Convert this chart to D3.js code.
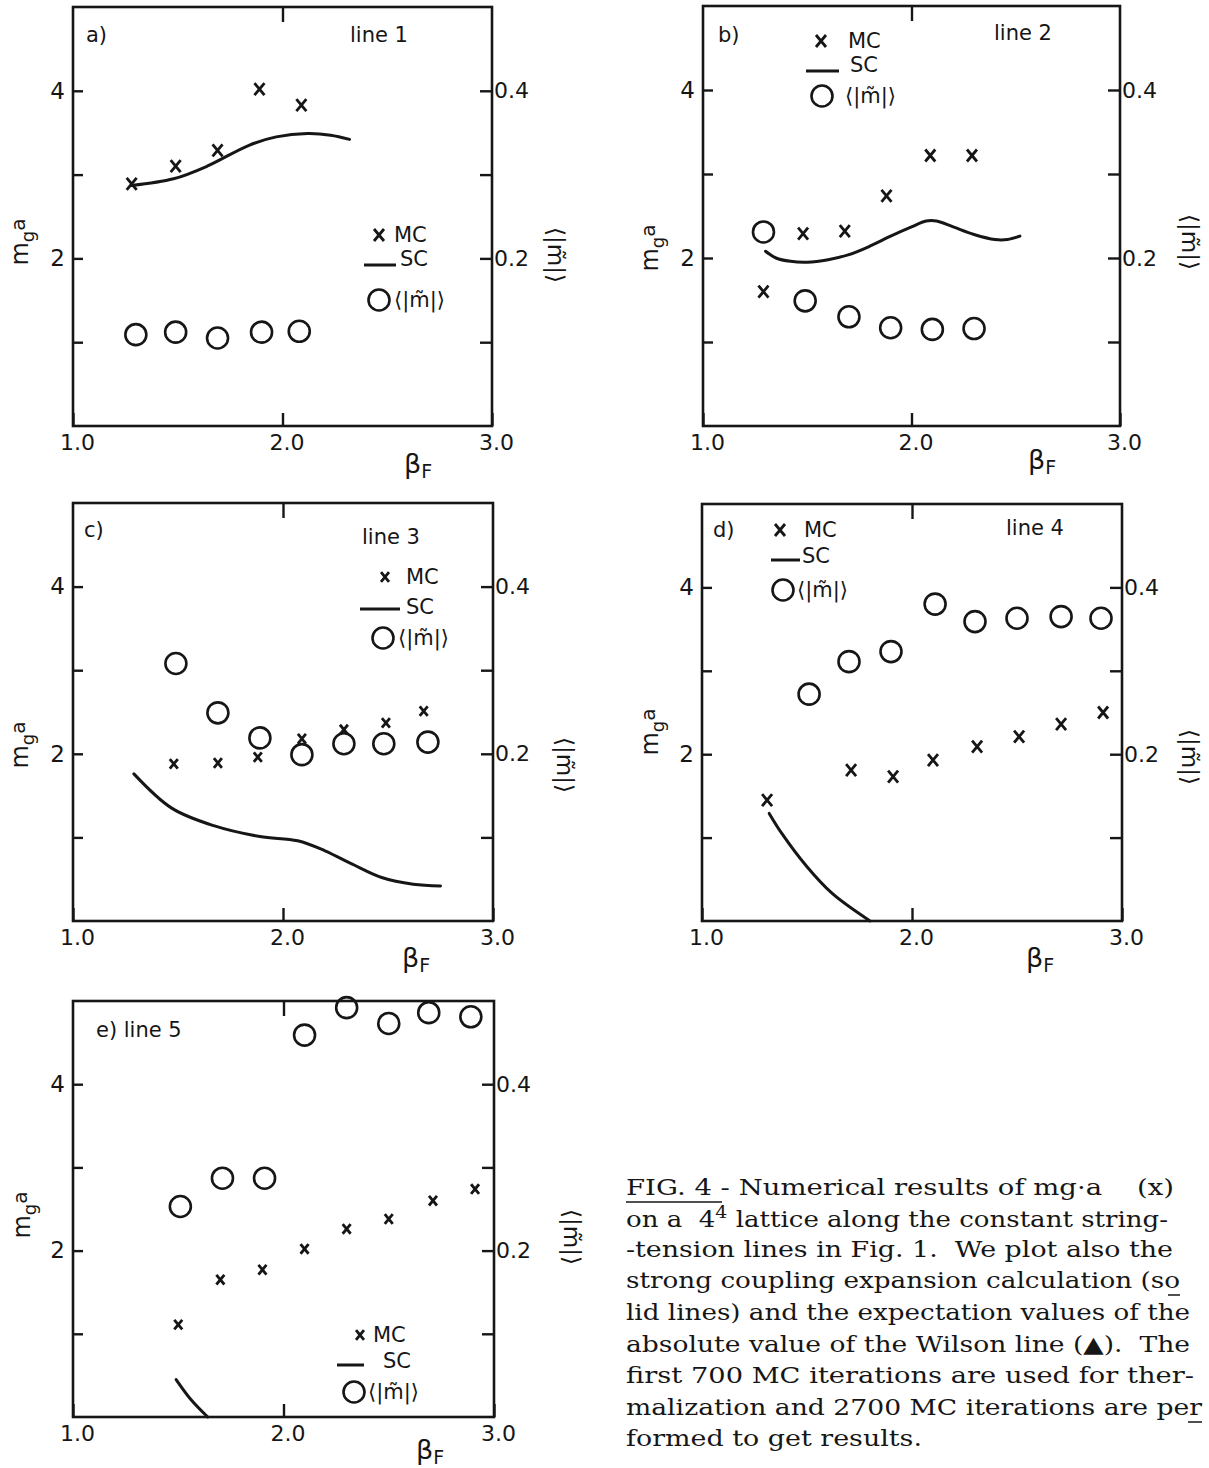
<!DOCTYPE html>
<html>
<head>
<meta charset="utf-8">
<script src="https://cdn.jsdelivr.net/npm/d3@7"></script>
<style>
  body { margin: 0; background: #fff; }
  svg text { font-family: "DejaVu Sans", sans-serif; fill: #161616; }
</style>
</head>
<body>
<div id="fig"></div>
<script>
// ticks shared by the five panels
var betaTicks = [1.0, 2.0, 3.0],
    massTicks = [1, 2, 3, 4],
    massLabelled = [2, 4],
    wilsonTicks = [0.1, 0.2, 0.3, 0.4],
    wilsonLabelled = [0.2, 0.4];

// a) line 1
var aMcBeta = [1.28, 1.49, 1.69, 1.89, 2.09],
    aMcMass = [2.89, 3.10, 3.29, 4.02, 3.83],
    aScBeta = [1.28, 1.48, 1.64, 1.84, 1.97, 2.12, 2.23, 2.32],
    aScMass = [2.87, 2.95, 3.10, 3.35, 3.45, 3.49, 3.47, 3.42],
    aWlBeta = [1.30, 1.49, 1.69, 1.90, 2.08],
    aWlVal  = [0.109, 0.112, 0.105, 0.112, 0.113];

// b) line 2
var bMcBeta = [1.29, 1.48, 1.68, 1.88, 2.09, 2.29],
    bMcMass = [1.60, 2.29, 2.32, 2.74, 3.22, 3.22],
    bScBeta = [1.30, 1.35, 1.42, 1.50, 1.60, 1.70, 1.80, 1.90, 2.00, 2.07, 2.12, 2.20, 2.30, 2.40, 2.46, 2.52],
    bScMass = [2.08, 2.00, 1.96, 1.95, 1.98, 2.04, 2.14, 2.26, 2.37, 2.44, 2.44, 2.37, 2.28, 2.22, 2.22, 2.26],
    bWlBeta = [1.29, 1.49, 1.70, 1.90, 2.10, 2.30],
    bWlVal  = [0.231, 0.149, 0.130, 0.117, 0.115, 0.116];

// c) line 3
var cMcBeta = [1.48, 1.69, 1.88, 2.09, 2.29, 2.49, 2.67],
    cMcMass = [1.88, 1.89, 1.96, 2.18, 2.29, 2.37, 2.51],
    cScBeta = [1.29, 1.47, 1.67, 1.89, 2.07, 2.20, 2.33, 2.47, 2.62, 2.75],
    cScMass = [1.76, 1.35, 1.14, 1.01, 0.96, 0.84, 0.68, 0.52, 0.44, 0.42],
    cWlBeta = [1.49, 1.69, 1.89, 2.09, 2.29, 2.48, 2.69],
    cWlVal  = [0.308, 0.249, 0.219, 0.199, 0.212, 0.212, 0.214];

// d) line 4
var dMcBeta = [1.31, 1.71, 1.91, 2.10, 2.31, 2.51, 2.71, 2.91],
    dMcMass = [1.45, 1.81, 1.73, 1.93, 2.09, 2.21, 2.36, 2.50],
    dScBeta = [1.32, 1.38, 1.50, 1.62, 1.80],
    dScMass = [1.29, 1.05, 0.65, 0.33, 0.00],
    dWlBeta = [1.51, 1.70, 1.90, 2.11, 2.30, 2.50, 2.71, 2.90],
    dWlVal  = [0.272, 0.311, 0.323, 0.380, 0.359, 0.363, 0.365, 0.363];

// e) line 5
var eMcBeta = [1.50, 1.70, 1.90, 2.10, 2.30, 2.50, 2.71, 2.91],
    eMcMass = [1.11, 1.65, 1.77, 2.02, 2.26, 2.38, 2.60, 2.74],
    eScBeta = [1.49, 1.56, 1.64],
    eScMass = [0.45, 0.21, 0.00],
    eWlBeta = [1.51, 1.71, 1.91, 2.10, 2.30, 2.50, 2.69, 2.89],
    eWlVal  = [0.253, 0.287, 0.287, 0.459, 0.492, 0.473, 0.486, 0.481];

// \u00a0 keeps the typed wide gaps
var captionLines = [
  "FIG. 4 - Numerical results of mg\u00b7a \u00a0\u00a0\u00a0(x)",
  "on a \u00a04|4| lattice along the constant string-",
  "-tension lines in Fig. 1. \u00a0We plot also the",
  "strong coupling expansion calculation (so",
  "lid lines) and the expectation values of the",
  "absolute value of the Wilson line (\u25b2). \u00a0The",
  "first 700 MC iterations are used for ther-",
  "malization and 2700 MC iterations are per",
  "formed to get results."
];

var ink = "#161616";
var zipPts = function(xs, ys) { return xs.map(function(v, i) { return [v, ys[i]]; }); };

// frame boxes and text spots for every panel (layout only)
var panels = [
  { tag: "a)", line: "line 1", box: [73, 7, 492, 426], tagAt: [86, 35], lineAt: [350, 35],
    mc: zipPts(aMcBeta, aMcMass), sc: zipPts(aScBeta, aScMass), wl: zipPts(aWlBeta, aWlVal), xs: 5,
    leg: { mx: 379, mtx: 394, my: 235, l0: 364, l1: 396, ly: 265, stx: 400, sy: 259, cx: 379, ctx: 394, cy: 300 },
    beta: [418, 464], left: [20, 242], right: [556, 255] },
  { tag: "b)", line: "line 2", box: [703, 6, 1120, 426], tagAt: [718, 35], lineAt: [994, 33],
    mc: zipPts(bMcBeta, bMcMass), sc: zipPts(bScBeta, bScMass), wl: zipPts(bWlBeta, bWlVal), xs: 5,
    leg: { mx: 821, mtx: 848, my: 41, l0: 806, l1: 839, ly: 71, stx: 850, sy: 65, cx: 822, ctx: 845, cy: 96 },
    beta: [1042, 460], left: [650, 248], right: [1190, 242] },
  { tag: "c)", line: "line 3", box: [73, 503, 493, 921], tagAt: [84, 530], lineAt: [362, 537],
    mc: zipPts(cMcBeta, cMcMass), sc: zipPts(cScBeta, cScMass), wl: zipPts(cWlBeta, cWlVal), xs: 4,
    leg: { mx: 385, mtx: 406, my: 577, l0: 360, l1: 400, ly: 609, stx: 406, sy: 607, cx: 383, ctx: 398, cy: 638 },
    beta: [416, 958], left: [20, 745], right: [565, 765] },
  { tag: "d)", line: "line 4", box: [702, 504, 1122, 921], tagAt: [713, 530], lineAt: [1006, 528],
    mc: zipPts(dMcBeta, dMcMass), sc: zipPts(dScBeta, dScMass), wl: zipPts(dWlBeta, dWlVal), xs: 5,
    leg: { mx: 780, mtx: 804, my: 530, l0: 771, l1: 800, ly: 560, stx: 802, sy: 556, cx: 783, ctx: 797, cy: 590 },
    beta: [1040, 958], left: [650, 732], right: [1190, 757] },
  { tag: "e) line 5", line: "", box: [73, 1001, 494, 1417], tagAt: [96, 1030], lineAt: [0, 0],
    mc: zipPts(eMcBeta, eMcMass), sc: zipPts(eScBeta, eScMass), wl: zipPts(eWlBeta, eWlVal), xs: 4,
    leg: { mx: 360, mtx: 373, my: 1335, l0: 337, l1: 364, ly: 1365, stx: 383, sy: 1361, cx: 354, ctx: 368, cy: 1392 },
    beta: [430, 1450], left: [22, 1215], right: [572, 1237] }
];

var svg = d3.select("#fig").append("svg")
  .attr("width", 1209)
  .attr("height", 1468)
  .style("background", "#fff");

function crossPath(s) {
  var t = s * 1.2;
  return "M" + (-s) + "," + (-t) + "L" + s + "," + t + "M" + (-s) + "," + t + "L" + s + "," + (-t);
}

function styleAxis(g, size) {
  g.select(".domain").remove();
  g.attr("font-family", null).attr("font-size", null);
  g.selectAll(".tick line").attr("stroke", ink).attr("stroke-width", 2.4);
  g.selectAll(".tick text").attr("font-size", size).attr("fill", ink);
}

panels.forEach(function(p) {
  var x0 = p.box[0], y0 = p.box[1], x1 = p.box[2], y1 = p.box[3];

  var x = d3.scaleLinear().domain([1, 3]).range([x0, x1]);
  var y = d3.scaleLinear().domain([0, 5]).range([y1, y0]);
  var yR = d3.scaleLinear().domain([0, 0.5]).range([y1, y0]); // <|m|> axis

  var g = svg.append("g");

  // frame
  g.append("rect")
    .attr("x", x0).attr("y", y0)
    .attr("width", x1 - x0).attr("height", y1 - y0)
    .attr("fill", "none").attr("stroke", ink).attr("stroke-width", 2.6);

  // axes, ticks all pointing inward
  g.append("g").attr("transform", "translate(" + x0 + ",0)")
    .call(d3.axisLeft(y).tickValues(massTicks).tickSizeInner(-10).tickSizeOuter(0).tickPadding(8)
      .tickFormat(function(d) { return massLabelled.indexOf(d) >= 0 ? d : ""; }))
    .call(styleAxis, 23);

  g.append("g").attr("transform", "translate(" + x1 + ",0)")
    .call(d3.axisRight(yR).tickValues(wilsonTicks).tickSizeInner(-12).tickSizeOuter(0).tickPadding(2)
      .tickFormat(function(d) { return wilsonLabelled.indexOf(d) >= 0 ? d3.format(".1f")(d) : ""; }))
    .call(styleAxis, 22);

  g.append("g").attr("transform", "translate(0," + y1 + ")")
    .call(d3.axisBottom(x).tickValues(betaTicks).tickSizeInner(-13).tickSizeOuter(0).tickPadding(8)
      .tickFormat(d3.format(".1f")))
    .call(styleAxis, 22)
    .selectAll(".tick text").attr("dx", 4);

  g.append("g").attr("transform", "translate(0," + y0 + ")")
    .call(d3.axisTop(x).tickValues([2]).tickSizeInner(-15).tickSizeOuter(0).tickFormat(""))
    .call(styleAxis, 20);

  // strong coupling curve
  var line = d3.line()
    .x(function(d) { return x(d[0]); })
    .y(function(d) { return y(d[1]); })
    .curve(d3.curveCatmullRom.alpha(0.5));
  g.append("path").datum(p.sc)
    .attr("d", line)
    .attr("fill", "none").attr("stroke", ink).attr("stroke-width", 3)
    .attr("stroke-linecap", "round");

  // Monte Carlo points
  g.selectAll(".mc").data(p.mc).enter().append("path")
    .attr("class", "mc")
    .attr("transform", function(d) { return "translate(" + x(d[0]) + "," + y(d[1]) + ")"; })
    .attr("d", crossPath(p.xs))
    .attr("fill", "none").attr("stroke", ink).attr("stroke-width", 2.8);

  // Wilson line points
  g.selectAll(".wl").data(p.wl).enter().append("circle")
    .attr("class", "wl")
    .attr("cx", function(d) { return x(d[0]); })
    .attr("cy", function(d) { return yR(d[1]); })
    .attr("r", 10.5)
    .attr("fill", "none").attr("stroke", ink).attr("stroke-width", 2.6);

  // panel tag and line name
  g.append("text").attr("x", p.tagAt[0]).attr("y", p.tagAt[1]).attr("dy", "0.35em")
    .attr("font-size", 21).text(p.tag);
  if (p.line) {
    g.append("text").attr("x", p.lineAt[0]).attr("y", p.lineAt[1]).attr("dy", "0.35em")
      .attr("font-size", 21).text(p.line);
  }

  // legend
  var L = p.leg;
  g.append("path").attr("transform", "translate(" + L.mx + "," + L.my + ")")
    .attr("d", crossPath(p.xs)).attr("fill", "none").attr("stroke", ink).attr("stroke-width", 2.8);
  g.append("text").attr("x", L.mtx).attr("y", L.my).attr("dy", "0.35em").attr("font-size", 21).text("MC");
  g.append("line").attr("x1", L.l0).attr("x2", L.l1).attr("y1", L.ly).attr("y2", L.ly)
    .attr("stroke", ink).attr("stroke-width", 3);
  g.append("text").attr("x", L.stx).attr("y", L.sy).attr("dy", "0.35em").attr("font-size", 21).text("SC");
  g.append("circle").attr("cx", L.cx).attr("cy", L.cy).attr("r", 10.5)
    .attr("fill", "none").attr("stroke", ink).attr("stroke-width", 2.6);
  g.append("text").attr("x", L.ctx).attr("y", L.cy).attr("dy", "0.35em").attr("font-size", 21)
    .text("\u27e8|m\u0303|\u27e9");

  // axis titles
  var bt = g.append("text").attr("x", p.beta[0]).attr("y", p.beta[1]).attr("text-anchor", "middle")
    .attr("dy", "0.35em").attr("font-size", 27);
  bt.append("tspan").text("\u03b2");
  bt.append("tspan").attr("dy", 5).attr("font-size", 19).text("F");

  var lt = g.append("text")
    .attr("transform", "translate(" + p.left[0] + "," + p.left[1] + ") rotate(-90)")
    .attr("text-anchor", "middle").attr("dy", "0.35em").attr("font-size", 24);
  lt.append("tspan").text("m");
  lt.append("tspan").attr("dy", 6).attr("font-size", 18).text("g");
  lt.append("tspan").attr("dy", -9).attr("font-size", 20).text("a");

  g.append("text")
    .attr("transform", "translate(" + p.right[0] + "," + p.right[1] + ") rotate(90)")
    .attr("text-anchor", "middle").attr("dy", "0.35em").attr("font-size", 23)
    .text("\u27e8|m\u0303|\u27e9");
});

// caption
var capX = 626,
    capBase = [1195, 1227, 1257, 1288, 1320, 1352, 1383, 1415, 1446],
    capEnd = [1174, 1168, 1173, 1180, 1190, 1190, 1194, 1202, 922];

var cap = svg.append("g");

captionLines.forEach(function(s, i) {
  var t = cap.append("text")
    .attr("x", capX).attr("y", capBase[i])
    .attr("font-size", 22)
    .style("font-family", "'DejaVu Serif', serif")
    .attr("textLength", capEnd[i] - capX)
    .attr("lengthAdjust", "spacingAndGlyphs");
  var parts = s.split("|");
  if (parts.length === 3) {
    t.append("tspan").text(parts[0]);
    t.append("tspan").attr("dy", -9).attr("font-size", 16).text(parts[1]);
    t.append("tspan").attr("dy", 9).text(parts[2]);
  } else {
    t.text(s);
  }
});

// underlines of the typed caption
cap.append("line").attr("x1", 626).attr("x2", 722).attr("y1", 1202).attr("y2", 1202)
  .attr("stroke", ink).attr("stroke-width", 1.5);
cap.append("line").attr("x1", 1168).attr("x2", 1180).attr("y1", 1295).attr("y2", 1295)
  .attr("stroke", ink).attr("stroke-width", 1.5);
cap.append("line").attr("x1", 1188).attr("x2", 1202).attr("y1", 1422).attr("y2", 1422)
  .attr("stroke", ink).attr("stroke-width", 1.5);
</script>
</body>
</html>
